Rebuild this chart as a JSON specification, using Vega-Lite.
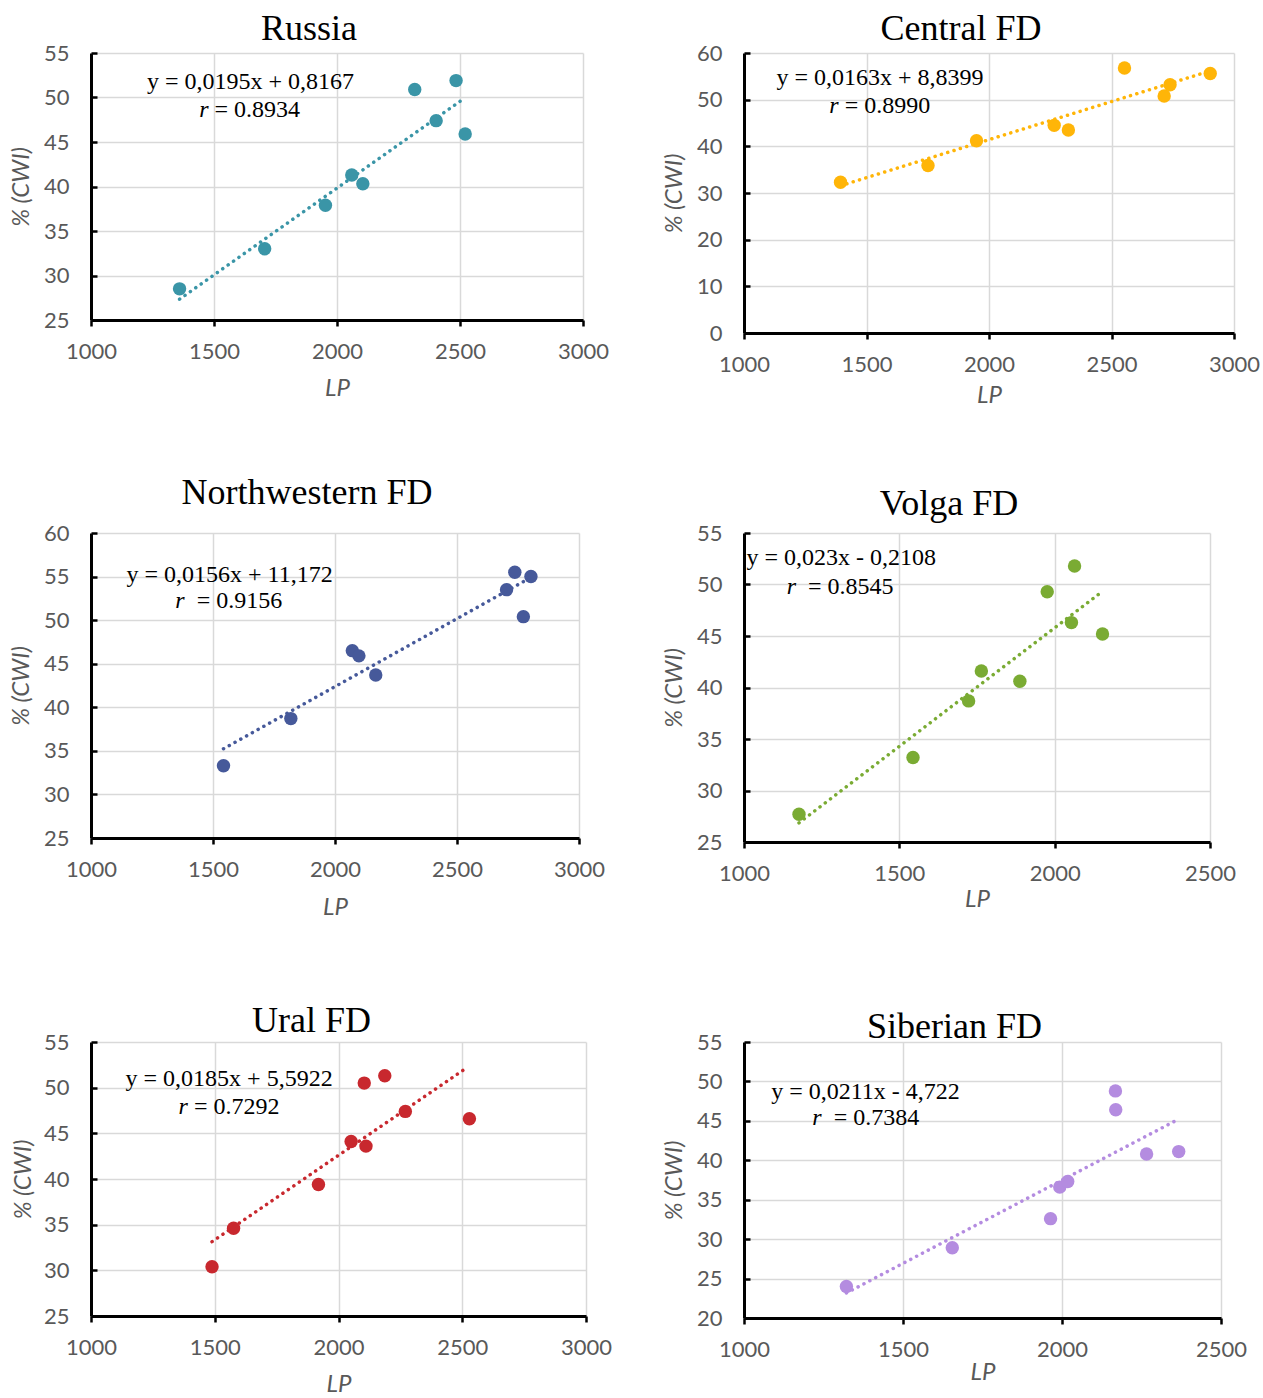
{
  "$schema": "https://vega.github.io/schema/vega-lite/v6.json",
  "background": "white",
  "padding": {"left": 9, "top": 11, "right": 0, "bottom": 0},
  "config": {
    "view": {"stroke": null},
    "axis": {"domainColor": "black", "domainWidth": 3, "gridColor": "#d9d9d9", "gridWidth": 1.5, "tickColor": "black", "tickWidth": 2.5, "labelFont": "Lato", "labelFontSize": 22, "labelColor": "#595959", "labelFlush": false, "labelOverlap": false, "format": "d", "titleFont": "Lato", "titleFontSize": 24, "titleFontStyle": "italic", "titleFontWeight": "normal", "titleColor": "#595959"},
    "axisX": {"tickSize": 6, "labelPadding": 15},
    "axisY": {"tickSize": -6, "labelPadding": 28},
    "title": {"font": "Liberation Serif", "fontSize": 36, "fontWeight": "normal", "color": "black", "frame": "bounds", "anchor": "middle", "baseline": "alphabetic", "offset": 0},
    "text": {"font": "Liberation Serif", "fontSize": 24, "color": "black", "baseline": "middle"}
  },
  "datasets": {
    "points": [
      {"panel": "Russia", "LP": 1360, "CWI": 28.5},
      {"panel": "Russia", "LP": 1706, "CWI": 33.0},
      {"panel": "Russia", "LP": 1953, "CWI": 37.9},
      {"panel": "Russia", "LP": 2060, "CWI": 41.3},
      {"panel": "Russia", "LP": 2105, "CWI": 40.3},
      {"panel": "Russia", "LP": 2316, "CWI": 50.9},
      {"panel": "Russia", "LP": 2403, "CWI": 47.4},
      {"panel": "Russia", "LP": 2484, "CWI": 51.9},
      {"panel": "Russia", "LP": 2521, "CWI": 45.9},
      {"panel": "Central", "LP": 1394, "CWI": 32.3},
      {"panel": "Central", "LP": 1751, "CWI": 35.9},
      {"panel": "Central", "LP": 1949, "CWI": 41.2},
      {"panel": "Central", "LP": 2266, "CWI": 44.5},
      {"panel": "Central", "LP": 2324, "CWI": 43.5},
      {"panel": "Central", "LP": 2553, "CWI": 56.8},
      {"panel": "Central", "LP": 2715, "CWI": 50.8},
      {"panel": "Central", "LP": 2739, "CWI": 53.2},
      {"panel": "Central", "LP": 2903, "CWI": 55.6},
      {"panel": "NW", "LP": 1543, "CWI": 33.3},
      {"panel": "NW", "LP": 1819, "CWI": 38.7},
      {"panel": "NW", "LP": 2071, "CWI": 46.5},
      {"panel": "NW", "LP": 2098, "CWI": 45.9},
      {"panel": "NW", "LP": 2167, "CWI": 43.7},
      {"panel": "NW", "LP": 2703, "CWI": 53.5},
      {"panel": "NW", "LP": 2737, "CWI": 55.5},
      {"panel": "NW", "LP": 2803, "CWI": 55.0},
      {"panel": "NW", "LP": 2772, "CWI": 50.4},
      {"panel": "Volga", "LP": 1177, "CWI": 27.7},
      {"panel": "Volga", "LP": 1544, "CWI": 33.2},
      {"panel": "Volga", "LP": 1723, "CWI": 38.7},
      {"panel": "Volga", "LP": 1764, "CWI": 41.6},
      {"panel": "Volga", "LP": 1888, "CWI": 40.6},
      {"panel": "Volga", "LP": 1976, "CWI": 49.3},
      {"panel": "Volga", "LP": 2054, "CWI": 46.3},
      {"panel": "Volga", "LP": 2064, "CWI": 51.8},
      {"panel": "Volga", "LP": 2154, "CWI": 45.2},
      {"panel": "Ural", "LP": 1489, "CWI": 30.4},
      {"panel": "Ural", "LP": 1576, "CWI": 34.6},
      {"panel": "Ural", "LP": 1919, "CWI": 39.4},
      {"panel": "Ural", "LP": 2051, "CWI": 44.1},
      {"panel": "Ural", "LP": 2111, "CWI": 43.6},
      {"panel": "Ural", "LP": 2104, "CWI": 50.5},
      {"panel": "Ural", "LP": 2187, "CWI": 51.3},
      {"panel": "Ural", "LP": 2270, "CWI": 47.4},
      {"panel": "Ural", "LP": 2529, "CWI": 46.6},
      {"panel": "Siberian", "LP": 1322, "CWI": 24.0},
      {"panel": "Siberian", "LP": 1655, "CWI": 28.9},
      {"panel": "Siberian", "LP": 1964, "CWI": 32.6},
      {"panel": "Siberian", "LP": 1993, "CWI": 36.6},
      {"panel": "Siberian", "LP": 2018, "CWI": 37.3},
      {"panel": "Siberian", "LP": 2168, "CWI": 48.8},
      {"panel": "Siberian", "LP": 2169, "CWI": 46.4},
      {"panel": "Siberian", "LP": 2266, "CWI": 40.8},
      {"panel": "Siberian", "LP": 2367, "CWI": 41.1}
    ],
    "trend": [
      {"panel": "Russia", "LP": 1360, "CWI": 27.34},
      {"panel": "Russia", "LP": 2521, "CWI": 49.98},
      {"panel": "Central", "LP": 1394, "CWI": 31.56},
      {"panel": "Central", "LP": 2903, "CWI": 56.16},
      {"panel": "NW", "LP": 1543, "CWI": 35.24},
      {"panel": "NW", "LP": 2803, "CWI": 54.90},
      {"panel": "Volga", "LP": 1177, "CWI": 26.86},
      {"panel": "Volga", "LP": 2150, "CWI": 49.24},
      {"panel": "Ural", "LP": 1489, "CWI": 33.14},
      {"panel": "Ural", "LP": 2505, "CWI": 51.94},
      {"panel": "Siberian", "LP": 1322, "CWI": 23.17},
      {"panel": "Siberian", "LP": 2367, "CWI": 45.22}
    ],
    "labels": [
      {"panel": "Russia", "part": "eq", "LP": 1648, "CWI": 51.7, "text": "y = 0,0195x + 0,8167"},
      {"panel": "Russia", "part": "r", "LP": 1502, "CWI": 48.6, "text": "r"},
      {"panel": "Russia", "part": "val", "LP": 1502, "CWI": 48.6, "text": "= 0.8934"},
      {"panel": "Central", "part": "eq", "LP": 1555, "CWI": 54.6, "text": "y = 0,0163x + 8,8399"},
      {"panel": "Central", "part": "r", "LP": 1411, "CWI": 48.7, "text": "r"},
      {"panel": "Central", "part": "val", "LP": 1411, "CWI": 48.7, "text": "= 0.8990"},
      {"panel": "NW", "part": "eq", "LP": 1568, "CWI": 55.2, "text": "y = 0,0156x + 11,172"},
      {"panel": "NW", "part": "r", "LP": 1433, "CWI": 52.2, "text": "r"},
      {"panel": "NW", "part": "val", "LP": 1433, "CWI": 52.2, "text": "= 0.9156"},
      {"panel": "Volga", "part": "eq", "LP": 1313, "CWI": 52.6, "text": "y = 0,023x - 0,2108"},
      {"panel": "Volga", "part": "r", "LP": 1206, "CWI": 49.8, "text": "r"},
      {"panel": "Volga", "part": "val", "LP": 1206, "CWI": 49.8, "text": "= 0.8545"},
      {"panel": "Ural", "part": "eq", "LP": 1558, "CWI": 50.9, "text": "y = 0,0185x + 5,5922"},
      {"panel": "Ural", "part": "r", "LP": 1416, "CWI": 47.9, "text": "r"},
      {"panel": "Ural", "part": "val", "LP": 1416, "CWI": 47.9, "text": "= 0.7292"},
      {"panel": "Siberian", "part": "eq", "LP": 1382, "CWI": 48.7, "text": "y = 0,0211x - 4,722"},
      {"panel": "Siberian", "part": "r", "LP": 1282, "CWI": 45.3, "text": "r"},
      {"panel": "Siberian", "part": "val", "LP": 1282, "CWI": 45.3, "text": "= 0.7384"}
    ]
  },
  "bounds": "flush",
  "columns": 2,
  "spacing": {"row": 200, "column": 158},
  "concat": [
    {
      "width": 492, "height": 267,
      "title": {"text": "Russia", "dy": 10},
      "layer": [
        {"data": {"name": "points"}, "transform": [{"filter": "datum.panel === 'Russia'"}],
         "mark": {"type": "circle", "size": 180, "opacity": 1, "color": "#3A95A7"},
         "encoding": {
           "x": {"field": "LP", "type": "quantitative", "scale": {"domain": [1000, 3000], "nice": false, "zero": false}, "axis": {"values": [1000, 1500, 2000, 2500, 3000], "tickCount": 20, "title": "LP", "titlePadding": 14}},
           "y": {"field": "CWI", "type": "quantitative", "scale": {"domain": [25, 55], "nice": false, "zero": false}, "axis": {"values": [25, 30, 35, 40, 45, 50, 55], "tickCount": 20, "title": "% (CWI)", "titlePadding": 10}}
         }},
        {"data": {"name": "trend"}, "transform": [{"filter": "datum.panel === 'Russia'"}],
         "mark": {"type": "line", "color": "#3A95A7", "strokeWidth": 3.5, "strokeDash": [0.1, 6.5], "strokeCap": "round"},
         "encoding": {"x": {"field": "LP", "type": "quantitative"}, "y": {"field": "CWI", "type": "quantitative"}}},
        {"data": {"name": "labels"}, "transform": [{"filter": "datum.panel === 'Russia' && datum.part === 'eq'"}],
         "mark": {"type": "text", "align": "center"},
         "encoding": {"x": {"field": "LP", "type": "quantitative"}, "y": {"field": "CWI", "type": "quantitative"}, "text": {"field": "text"}}},
        {"data": {"name": "labels"}, "transform": [{"filter": "datum.panel === 'Russia' && datum.part === 'r'"}],
         "mark": {"type": "text", "align": "right", "fontStyle": "italic", "dx": -6},
         "encoding": {"x": {"field": "LP", "type": "quantitative"}, "y": {"field": "CWI", "type": "quantitative"}, "text": {"field": "text"}}},
        {"data": {"name": "labels"}, "transform": [{"filter": "datum.panel === 'Russia' && datum.part === 'val'"}],
         "mark": {"type": "text", "align": "left"},
         "encoding": {"x": {"field": "LP", "type": "quantitative"}, "y": {"field": "CWI", "type": "quantitative"}, "text": {"field": "text"}}}
      ]
    },
    {
      "width": 490, "height": 280,
      "title": {"text": "Central FD", "dy": 10},
      "layer": [
        {"data": {"name": "points"}, "transform": [{"filter": "datum.panel === 'Central'"}],
         "mark": {"type": "circle", "size": 180, "opacity": 1, "color": "#FFB508"},
         "encoding": {
           "x": {"field": "LP", "type": "quantitative", "scale": {"domain": [1000, 3000], "nice": false, "zero": false}, "axis": {"values": [1000, 1500, 2000, 2500, 3000], "tickCount": 20, "title": "LP", "titlePadding": 8}},
           "y": {"field": "CWI", "type": "quantitative", "scale": {"domain": [0, 60], "nice": false, "zero": false}, "axis": {"values": [0, 10, 20, 30, 40, 50, 60], "tickCount": 20, "title": "% (CWI)", "titlePadding": 10}}
         }},
        {"data": {"name": "trend"}, "transform": [{"filter": "datum.panel === 'Central'"}],
         "mark": {"type": "line", "color": "#FFB508", "strokeWidth": 3.5, "strokeDash": [0.1, 6.5], "strokeCap": "round"},
         "encoding": {"x": {"field": "LP", "type": "quantitative"}, "y": {"field": "CWI", "type": "quantitative"}}},
        {"data": {"name": "labels"}, "transform": [{"filter": "datum.panel === 'Central' && datum.part === 'eq'"}],
         "mark": {"type": "text", "align": "center"},
         "encoding": {"x": {"field": "LP", "type": "quantitative"}, "y": {"field": "CWI", "type": "quantitative"}, "text": {"field": "text"}}},
        {"data": {"name": "labels"}, "transform": [{"filter": "datum.panel === 'Central' && datum.part === 'r'"}],
         "mark": {"type": "text", "align": "right", "fontStyle": "italic", "dx": -6},
         "encoding": {"x": {"field": "LP", "type": "quantitative"}, "y": {"field": "CWI", "type": "quantitative"}, "text": {"field": "text"}}},
        {"data": {"name": "labels"}, "transform": [{"filter": "datum.panel === 'Central' && datum.part === 'val'"}],
         "mark": {"type": "text", "align": "left"},
         "encoding": {"x": {"field": "LP", "type": "quantitative"}, "y": {"field": "CWI", "type": "quantitative"}, "text": {"field": "text"}}}
      ]
    },
    {
      "width": 488, "height": 305,
      "title": {"text": "Northwestern FD", "dy": -6},
      "layer": [
        {"data": {"name": "points"}, "transform": [{"filter": "datum.panel === 'NW'"}],
         "mark": {"type": "circle", "size": 180, "opacity": 1, "color": "#46599A"},
         "encoding": {
           "x": {"field": "LP", "type": "quantitative", "scale": {"domain": [1000, 3000], "nice": false, "zero": false}, "axis": {"values": [1000, 1500, 2000, 2500, 3000], "tickCount": 20, "title": "LP", "titlePadding": 15}},
           "y": {"field": "CWI", "type": "quantitative", "scale": {"domain": [25, 60], "nice": false, "zero": false}, "axis": {"values": [25, 30, 35, 40, 45, 50, 55, 60], "tickCount": 20, "title": "% (CWI)", "titlePadding": 10}}
         }},
        {"data": {"name": "trend"}, "transform": [{"filter": "datum.panel === 'NW'"}],
         "mark": {"type": "line", "color": "#46599A", "strokeWidth": 3.5, "strokeDash": [0.1, 6.5], "strokeCap": "round"},
         "encoding": {"x": {"field": "LP", "type": "quantitative"}, "y": {"field": "CWI", "type": "quantitative"}}},
        {"data": {"name": "labels"}, "transform": [{"filter": "datum.panel === 'NW' && datum.part === 'eq'"}],
         "mark": {"type": "text", "align": "center"},
         "encoding": {"x": {"field": "LP", "type": "quantitative"}, "y": {"field": "CWI", "type": "quantitative"}, "text": {"field": "text"}}},
        {"data": {"name": "labels"}, "transform": [{"filter": "datum.panel === 'NW' && datum.part === 'r'"}],
         "mark": {"type": "text", "align": "right", "fontStyle": "italic", "dx": -12},
         "encoding": {"x": {"field": "LP", "type": "quantitative"}, "y": {"field": "CWI", "type": "quantitative"}, "text": {"field": "text"}}},
        {"data": {"name": "labels"}, "transform": [{"filter": "datum.panel === 'NW' && datum.part === 'val'"}],
         "mark": {"type": "text", "align": "left"},
         "encoding": {"x": {"field": "LP", "type": "quantitative"}, "y": {"field": "CWI", "type": "quantitative"}, "text": {"field": "text"}}}
      ]
    },
    {
      "width": 466, "height": 309,
      "title": {"text": "Volga FD", "dy": 5},
      "layer": [
        {"data": {"name": "points"}, "transform": [{"filter": "datum.panel === 'Volga'"}],
         "mark": {"type": "circle", "size": 180, "opacity": 1, "color": "#7AAB33"},
         "encoding": {
           "x": {"field": "LP", "type": "quantitative", "scale": {"domain": [1000, 2500], "nice": false, "zero": false}, "axis": {"values": [1000, 1500, 2000, 2500], "tickCount": 20, "title": "LP", "titlePadding": 3}},
           "y": {"field": "CWI", "type": "quantitative", "scale": {"domain": [25, 55], "nice": false, "zero": false}, "axis": {"values": [25, 30, 35, 40, 45, 50, 55], "tickCount": 20, "title": "% (CWI)", "titlePadding": 10}}
         }},
        {"data": {"name": "trend"}, "transform": [{"filter": "datum.panel === 'Volga'"}],
         "mark": {"type": "line", "color": "#7AAB33", "strokeWidth": 3.5, "strokeDash": [0.1, 6.5], "strokeCap": "round"},
         "encoding": {"x": {"field": "LP", "type": "quantitative"}, "y": {"field": "CWI", "type": "quantitative"}}},
        {"data": {"name": "labels"}, "transform": [{"filter": "datum.panel === 'Volga' && datum.part === 'eq'"}],
         "mark": {"type": "text", "align": "center"},
         "encoding": {"x": {"field": "LP", "type": "quantitative"}, "y": {"field": "CWI", "type": "quantitative"}, "text": {"field": "text"}}},
        {"data": {"name": "labels"}, "transform": [{"filter": "datum.panel === 'Volga' && datum.part === 'r'"}],
         "mark": {"type": "text", "align": "right", "fontStyle": "italic", "dx": -12},
         "encoding": {"x": {"field": "LP", "type": "quantitative"}, "y": {"field": "CWI", "type": "quantitative"}, "text": {"field": "text"}}},
        {"data": {"name": "labels"}, "transform": [{"filter": "datum.panel === 'Volga' && datum.part === 'val'"}],
         "mark": {"type": "text", "align": "left"},
         "encoding": {"x": {"field": "LP", "type": "quantitative"}, "y": {"field": "CWI", "type": "quantitative"}, "text": {"field": "text"}}}
      ]
    },
    {
      "width": 495, "height": 274,
      "title": {"text": "Ural FD", "dy": 13},
      "layer": [
        {"data": {"name": "points"}, "transform": [{"filter": "datum.panel === 'Ural'"}],
         "mark": {"type": "circle", "size": 180, "opacity": 1, "color": "#C8282E"},
         "encoding": {
           "x": {"field": "LP", "type": "quantitative", "scale": {"domain": [1000, 3000], "nice": false, "zero": false}, "axis": {"values": [1000, 1500, 2000, 2500, 3000], "tickCount": 20, "title": "LP", "titlePadding": 14}},
           "y": {"field": "CWI", "type": "quantitative", "scale": {"domain": [25, 55], "nice": false, "zero": false}, "axis": {"values": [25, 30, 35, 40, 45, 50, 55], "tickCount": 20, "title": "% (CWI)", "titlePadding": 8}}
         }},
        {"data": {"name": "trend"}, "transform": [{"filter": "datum.panel === 'Ural'"}],
         "mark": {"type": "line", "color": "#C8282E", "strokeWidth": 3.5, "strokeDash": [0.1, 6.5], "strokeCap": "round"},
         "encoding": {"x": {"field": "LP", "type": "quantitative"}, "y": {"field": "CWI", "type": "quantitative"}}},
        {"data": {"name": "labels"}, "transform": [{"filter": "datum.panel === 'Ural' && datum.part === 'eq'"}],
         "mark": {"type": "text", "align": "center"},
         "encoding": {"x": {"field": "LP", "type": "quantitative"}, "y": {"field": "CWI", "type": "quantitative"}, "text": {"field": "text"}}},
        {"data": {"name": "labels"}, "transform": [{"filter": "datum.panel === 'Ural' && datum.part === 'r'"}],
         "mark": {"type": "text", "align": "right", "fontStyle": "italic", "dx": -6},
         "encoding": {"x": {"field": "LP", "type": "quantitative"}, "y": {"field": "CWI", "type": "quantitative"}, "text": {"field": "text"}}},
        {"data": {"name": "labels"}, "transform": [{"filter": "datum.panel === 'Ural' && datum.part === 'val'"}],
         "mark": {"type": "text", "align": "left"},
         "encoding": {"x": {"field": "LP", "type": "quantitative"}, "y": {"field": "CWI", "type": "quantitative"}, "text": {"field": "text"}}}
      ]
    },
    {
      "width": 477, "height": 276,
      "title": {"text": "Siberian FD", "dy": 19},
      "layer": [
        {"data": {"name": "points"}, "transform": [{"filter": "datum.panel === 'Siberian'"}],
         "mark": {"type": "circle", "size": 180, "opacity": 1, "color": "#B48CE0"},
         "encoding": {
           "x": {"field": "LP", "type": "quantitative", "scale": {"domain": [1000, 2500], "nice": false, "zero": false}, "axis": {"values": [1000, 1500, 2000, 2500], "tickCount": 20, "title": "LP", "titlePadding": 0}},
           "y": {"field": "CWI", "type": "quantitative", "scale": {"domain": [20, 55], "nice": false, "zero": false}, "axis": {"values": [20, 25, 30, 35, 40, 45, 50, 55], "tickCount": 20, "title": "% (CWI)", "titlePadding": 10}}
         }},
        {"data": {"name": "trend"}, "transform": [{"filter": "datum.panel === 'Siberian'"}],
         "mark": {"type": "line", "color": "#B48CE0", "strokeWidth": 3.5, "strokeDash": [0.1, 6.5], "strokeCap": "round"},
         "encoding": {"x": {"field": "LP", "type": "quantitative"}, "y": {"field": "CWI", "type": "quantitative"}}},
        {"data": {"name": "labels"}, "transform": [{"filter": "datum.panel === 'Siberian' && datum.part === 'eq'"}],
         "mark": {"type": "text", "align": "center"},
         "encoding": {"x": {"field": "LP", "type": "quantitative"}, "y": {"field": "CWI", "type": "quantitative"}, "text": {"field": "text"}}},
        {"data": {"name": "labels"}, "transform": [{"filter": "datum.panel === 'Siberian' && datum.part === 'r'"}],
         "mark": {"type": "text", "align": "right", "fontStyle": "italic", "dx": -12},
         "encoding": {"x": {"field": "LP", "type": "quantitative"}, "y": {"field": "CWI", "type": "quantitative"}, "text": {"field": "text"}}},
        {"data": {"name": "labels"}, "transform": [{"filter": "datum.panel === 'Siberian' && datum.part === 'val'"}],
         "mark": {"type": "text", "align": "left"},
         "encoding": {"x": {"field": "LP", "type": "quantitative"}, "y": {"field": "CWI", "type": "quantitative"}, "text": {"field": "text"}}}
      ]
    }
  ]
}
